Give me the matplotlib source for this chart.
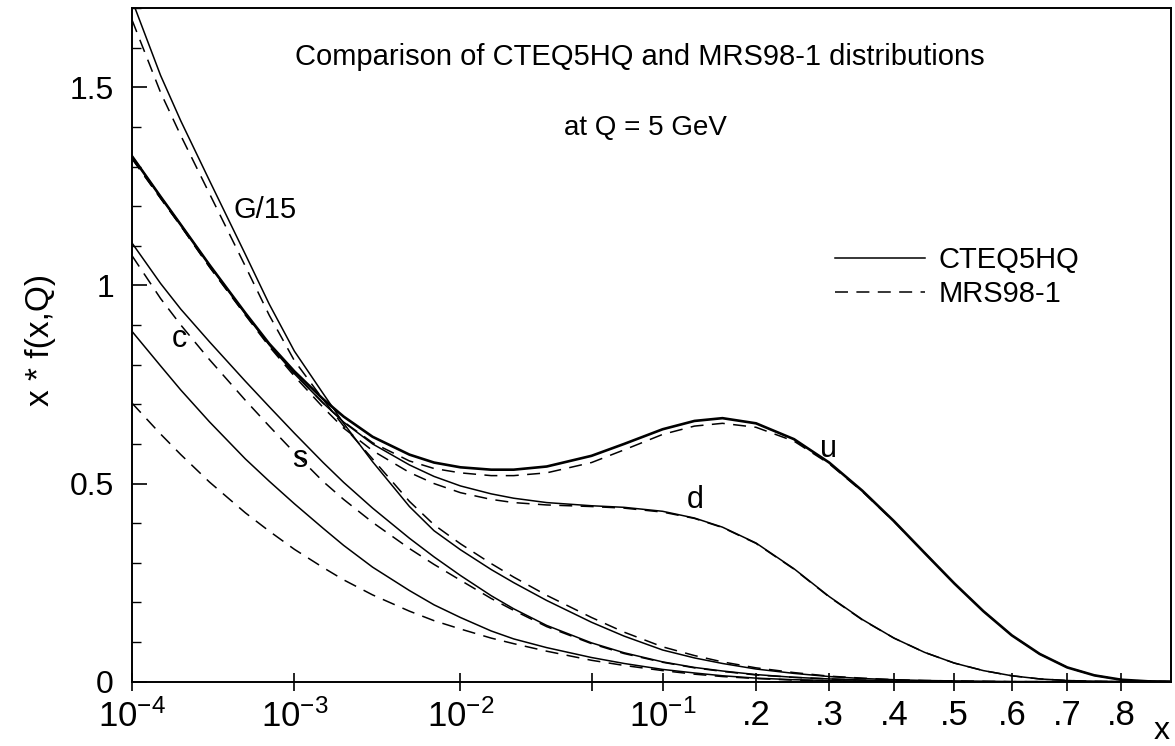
import matplotlib
matplotlib.use('Agg')
import matplotlib.pyplot as plt
from matplotlib.ticker import FixedLocator, NullLocator, MultipleLocator
import numpy as np

plt.rcParams['font.family'] = ['Liberation Sans', 'DejaVu Sans']
plt.rcParams['mathtext.fontset'] = 'custom'
plt.rcParams['mathtext.rm'] = 'Liberation Sans'
plt.rcParams['mathtext.default'] = 'regular'

# x grid the curves were read at
x = [1e-4, 1.5e-4, 2e-4, 3e-4, 5e-4, 7e-4, 1e-3, 1.5e-3, 2e-3, 3e-3, 5e-3, 7e-3,
     1e-2, 1.5e-2, 2e-2, 3e-2, 5e-2, 7e-2, 0.1, 0.13, 0.16, 0.2, 0.25, 0.3, 0.35,
     0.4, 0.45, 0.5, 0.55, 0.6, 0.65, 0.7, 0.75, 0.8, 0.85, 0.894]

# CTEQ5HQ (solid)
u_cteq = [1.326, 1.224, 1.153, 1.052, 0.93, 0.853, 0.783, 0.713, 0.669, 0.618, 0.573, 0.553,
          0.541, 0.535, 0.535, 0.543, 0.57, 0.6, 0.637, 0.658, 0.665, 0.652, 0.612, 0.553,
          0.482, 0.405, 0.325, 0.248, 0.178, 0.117, 0.07, 0.036, 0.016, 0.005, 0.001, 0.0]
d_cteq = [1.326, 1.224, 1.153, 1.052, 0.928, 0.85, 0.777, 0.703, 0.655, 0.6, 0.547, 0.518,
          0.494, 0.474, 0.463, 0.452, 0.444, 0.44, 0.43, 0.413, 0.39, 0.35, 0.285, 0.215,
          0.157, 0.11, 0.074, 0.047, 0.028, 0.015, 0.007, 0.003, 0.001, 0.0, 0.0, 0.0]
g_cteq = [1.72, 1.53, 1.415, 1.265, 1.078, 0.953, 0.834, 0.727, 0.652, 0.555, 0.442, 0.381,
          0.333, 0.283, 0.25, 0.205, 0.15, 0.115, 0.08, 0.06, 0.046, 0.032, 0.021, 0.013,
          0.008, 0.005, 0.003, 0.002, 0.001, 0.0, 0.0, 0.0, 0.0, 0.0, 0.0, 0.0]
s_cteq = [1.107, 1.005, 0.94, 0.858, 0.758, 0.694, 0.627, 0.553, 0.503, 0.438, 0.362, 0.315,
          0.268, 0.217, 0.184, 0.142, 0.098, 0.073, 0.05, 0.036, 0.027, 0.018, 0.011, 0.007,
          0.004, 0.002, 0.001, 0.0, 0.0, 0.0, 0.0, 0.0, 0.0, 0.0, 0.0, 0.0]
c_cteq = [0.884, 0.797, 0.736, 0.656, 0.562, 0.506, 0.449, 0.387, 0.344, 0.289, 0.23, 0.194,
          0.162, 0.128, 0.108, 0.086, 0.061, 0.046, 0.031, 0.022, 0.015, 0.009, 0.005, 0.003,
          0.001, 0.0, 0.0, 0.0, 0.0, 0.0, 0.0, 0.0, 0.0, 0.0, 0.0, 0.0]

# MRS98-1 (dashed)
u_mrs = [1.32, 1.22, 1.15, 1.047, 0.926, 0.849, 0.777, 0.703, 0.656, 0.603, 0.557, 0.538,
         0.527, 0.52, 0.52, 0.527, 0.553, 0.585, 0.624, 0.645, 0.652, 0.642, 0.607, 0.55,
         0.48, 0.404, 0.325, 0.248, 0.178, 0.117, 0.07, 0.036, 0.016, 0.005, 0.001, 0.0]
d_mrs = [1.32, 1.22, 1.15, 1.047, 0.925, 0.846, 0.771, 0.692, 0.64, 0.583, 0.528, 0.5,
         0.477, 0.46, 0.452, 0.446, 0.442, 0.438, 0.428, 0.412, 0.389, 0.349, 0.284, 0.214,
         0.156, 0.11, 0.074, 0.047, 0.028, 0.015, 0.007, 0.003, 0.001, 0.0, 0.0, 0.0]
g_mrs = [1.67, 1.487, 1.378, 1.232, 1.048, 0.925, 0.81, 0.712, 0.645, 0.562, 0.455, 0.396,
         0.348, 0.298, 0.264, 0.218, 0.162, 0.125, 0.088, 0.066, 0.05, 0.035, 0.023, 0.014,
         0.009, 0.005, 0.003, 0.002, 0.001, 0.0, 0.0, 0.0, 0.0, 0.0, 0.0, 0.0]
s_mrs = [1.075, 0.967, 0.9, 0.813, 0.71, 0.645, 0.578, 0.505, 0.46, 0.402, 0.336, 0.296,
         0.256, 0.21, 0.18, 0.139, 0.096, 0.071, 0.049, 0.035, 0.026, 0.017, 0.011, 0.007,
         0.004, 0.002, 0.001, 0.0, 0.0, 0.0, 0.0, 0.0, 0.0, 0.0, 0.0, 0.0]
c_mrs = [0.703, 0.625, 0.573, 0.504, 0.426, 0.38, 0.334, 0.288, 0.257, 0.219, 0.178, 0.154,
         0.133, 0.11, 0.096, 0.077, 0.054, 0.041, 0.028, 0.019, 0.013, 0.008, 0.004, 0.002,
         0.001, 0.0, 0.0, 0.0, 0.0, 0.0, 0.0, 0.0, 0.0, 0.0, 0.0, 0.0]

xticks = [1e-4, 1e-3, 1e-2, 0.05, 0.1, 0.2, 0.3, 0.4, 0.5, 0.6, 0.7, 0.8]
xticklabels = ['10$^{-4}$', '10$^{-3}$', '10$^{-2}$', '', '10$^{-1}$',
               '.2', '.3', '.4', '.5', '.6', '.7', '.8']
yticks = [0, 0.5, 1, 1.5]
yticklabels = ['0', '0.5', '1', '1.5']

# log at small x, almost linear at large x
K = 2.754
def fwd(v):
    v = np.asarray(v, dtype=float)
    return np.log10(np.clip(v, 1e-12, None)) + K * v

grid = np.logspace(-9, np.log10(1.5), 20000)
gridt = fwd(grid)
def inv(t):
    return np.interp(t, gridt, grid)


fig = plt.figure(figsize=(11.75, 7.46), dpi=100)
ax = fig.add_axes([132/1175, 64.3/746, 1039/1175, 673.7/746])
ax.set_xscale('function', functions=(fwd, inv))
ax.set_xlim(1e-4, 0.894)
ax.set_ylim(0, 1.7)

lw = 1.1
dash = (0, (8.5, 5.5))
ax.plot(x, g_cteq, color='black', lw=lw, label='CTEQ5HQ')
ax.plot(x, g_mrs, color='black', lw=lw, ls=dash, label='MRS98-1')
ax.plot(x, u_cteq, color='black', lw=1.9)
ax.plot(x, u_mrs, color='black', lw=lw, ls=dash)
ax.plot(x, d_cteq, color='black', lw=lw)
ax.plot(x, d_mrs, color='black', lw=lw, ls=dash)
ax.plot(x, s_cteq, color='black', lw=lw)
ax.plot(x, s_mrs, color='black', lw=lw, ls=dash)
ax.plot(x, c_cteq, color='black', lw=lw)
ax.plot(x, c_mrs, color='black', lw=lw, ls=dash)

ax.xaxis.set_major_locator(FixedLocator(xticks))
ax.set_xticklabels(xticklabels)
ax.xaxis.set_minor_locator(NullLocator())
ax.yaxis.set_major_locator(FixedLocator(yticks))
ax.set_yticklabels(yticklabels)
ax.yaxis.set_minor_locator(MultipleLocator(0.1))

ax.tick_params(axis='x', which='major', direction='inout', length=13, width=1.2,
               labelsize=25, pad=6)
ax.tick_params(axis='y', which='major', direction='in', length=11, width=1.2,
               labelsize=23, pad=13)
ax.tick_params(axis='y', which='minor', direction='in', length=6.5, width=1.0)
for sp in ax.spines.values():
    sp.set_linewidth(1.4)

# texts
ax.text(0.489, 0.927, 'Comparison of CTEQ5HQ and MRS98-1 distributions',
        transform=ax.transAxes, ha='center', va='center', fontsize=21)
ax.text(0.494, 0.822, 'at Q = 5 GeV', transform=ax.transAxes,
        ha='center', va='center', fontsize=20)
ax.text(0.128, 0.700, 'G/15', transform=ax.transAxes, ha='center', va='center', fontsize=21)
ax.text(0.046, 0.508, 'c', transform=ax.transAxes, ha='center', va='center', fontsize=22)
ax.text(0.161, 0.330, 's', transform=ax.transAxes, ha='center', va='center', fontsize=22)
ax.text(0.542, 0.270, 'd', transform=ax.transAxes, ha='center', va='center', fontsize=22)
ax.text(0.670, 0.345, 'u', transform=ax.transAxes, ha='center', va='center', fontsize=22)

fig.text(40/1175, 1 - 340/746, 'x * f(x,Q)', rotation=90, ha='center', va='center',
         fontsize=24)
fig.text(1162/1175, 1 - 731/746, 'x', ha='center', va='center', fontsize=23)

ax.legend(loc='upper left', bbox_to_anchor=(835/1175, 1 - 246/746),
          bbox_transform=fig.transFigure, frameon=False, fontsize=21,
          handlelength=3.1, handletextpad=0.45, labelspacing=0.2,
          borderpad=0, borderaxespad=0)

fig.savefig('out.png', dpi=100)
